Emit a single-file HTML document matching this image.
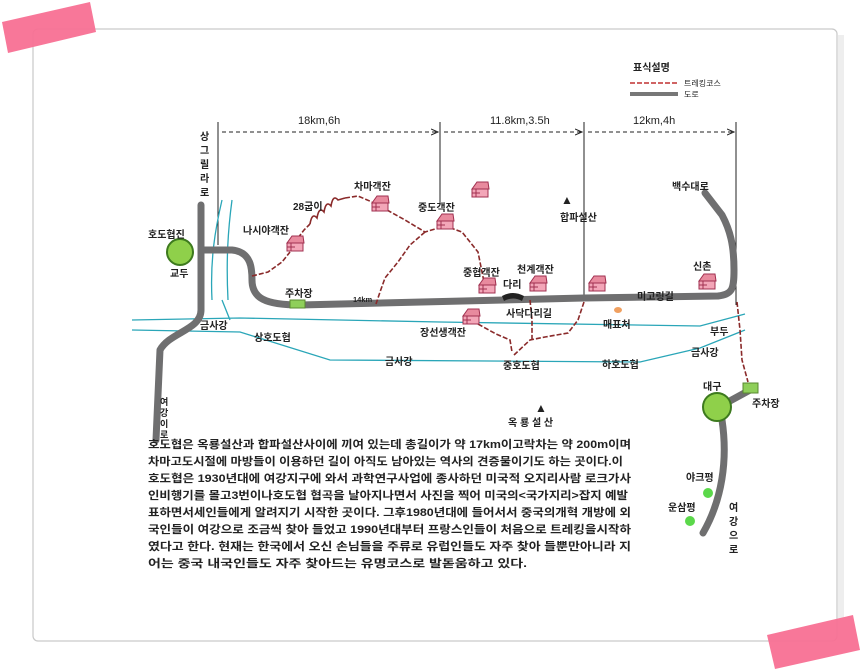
<!DOCTYPE html>
<html><head><meta charset="utf-8"><style>
html,body{margin:0;padding:0;background:#fff;}
svg{display:block;}
text{font-family:"Liberation Sans","Noto Sans CJK KR",sans-serif;fill:#222;}
.b{font-weight:bold;}
</style></head><body>
<svg width="865" height="671" viewBox="0 0 865 671" xmlns="http://www.w3.org/2000/svg">
<defs>
<marker id="ah" markerWidth="8" markerHeight="8" refX="7" refY="4" orient="auto"><path d="M0,1 L7,4 L0,7" fill="none" stroke="#222" stroke-width="1"/></marker>
<g id="house"><path d="M-8,-1 L-3,-8 L8,-8 L9,-1 Z" fill="#e88a9e" stroke="#a03050" stroke-width="1"/><rect x="-8" y="-1" width="16" height="8" fill="#f3a6b8" stroke="#a03050" stroke-width="1"/><path d="M-4,-1 L-4,7 M-8,3 L0,3" stroke="#a03050" stroke-width="1"/></g>
</defs>
<rect width="865" height="671" fill="#fff"/>
<rect x="33" y="29" width="804" height="612" rx="5" fill="#fff" stroke="#c9c9c9" stroke-width="1.2"/>
<rect x="838" y="35" width="6" height="600" fill="#eee"/>
<polygon points="2,22 90,2 96,32 8,53" fill="#f87094" opacity="0.95"/>
<polygon points="767,635 853,615 860,650 775,669" fill="#f87094" opacity="0.95"/>

<!-- legend -->
<text x="633" y="71" font-size="10" class="b">표식설명</text>
<line x1="630" y1="83" x2="678" y2="83" stroke="#c03030" stroke-width="1.5" stroke-dasharray="5,2"/>
<text x="684" y="86" font-size="8">트레킹코스</text>
<line x1="630" y1="94" x2="678" y2="94" stroke="#777" stroke-width="4"/>
<text x="684" y="97" font-size="8">도로</text>

<!-- dimension lines -->
<g stroke="#222" stroke-width="1">
<line x1="218" y1="122" x2="218" y2="245"/>
<line x1="440" y1="122" x2="440" y2="205"/>
<line x1="584" y1="122" x2="584" y2="300"/>
<line x1="736" y1="122" x2="736" y2="305"/>
<g stroke-dasharray="4,3" marker-end="url(#ah)">
<line x1="222" y1="132" x2="438" y2="132"/><line x1="444" y1="132" x2="582" y2="132"/><line x1="588" y1="132" x2="734" y2="132"/>
</g></g>
<text x="298" y="124" font-size="11">18km,6h</text>
<text x="490" y="124" font-size="11">11.8km,3.5h</text>
<text x="633" y="124" font-size="11">12km,4h</text>

<!-- rivers -->
<g fill="none" stroke="#2aa6b8" stroke-width="1.3">
<path d="M132,320 L240,318 L440,322 L700,326 L745,314"/>
<path d="M132,330 L240,332 L330,360 L640,362 L700,348 L745,330"/>
<path d="M212,300 C210,260 215,230 222,200 M222,300 L230,320 M228,300 C226,260 228,230 232,200"/>
</g>

<!-- roads -->
<g fill="none" stroke="#6f6f70" stroke-width="7" stroke-linecap="round" stroke-linejoin="round">
<path d="M201,205 L201,310 C201,330 170,332 160,350 L156,440"/>
<path d="M201,250 L232,250 C252,252 252,270 252,280 C252,298 265,305 300,305 L584,298 L718,296 C732,294 734,290 734,270 C734,245 730,230 722,215 L705,193"/>
<path d="M717,408 L750,390"/>
<path d="M722,420 C728,460 722,500 703,533"/>
</g>
<rect x="290" y="300" width="15" height="8" fill="#8fcf5a" stroke="#5a8a30"/>
<rect x="743" y="383" width="15" height="10" fill="#8fcf5a" stroke="#5a8a30"/>
<circle cx="180" cy="252" r="13" fill="#8fd04a" stroke="#3d7a1e" stroke-width="2"/>
<circle cx="717" cy="407" r="14" fill="#8fd04a" stroke="#3d7a1e" stroke-width="2"/>
<circle cx="708" cy="493" r="5" fill="#5bd84a"/>
<circle cx="690" cy="521" r="5" fill="#5bd84a"/>
<path d="M502,296 Q513,290 524,296 L522,301 Q513,296 504,301 Z" fill="#222"/>

<!-- trails -->
<g fill="none" stroke="#8a2a2a" stroke-width="1.6" stroke-dasharray="5,2">
<path d="M252,276 L268,272 L282,262 L290,252 M298,238 L304,230 L310,224"/>
<path d="M387,210 L405,220 L425,232 L445,226 L462,232 L478,252 L484,282"/>
<path d="M425,232 L410,245 L398,262 L385,278 L380,292 L376,304"/>
<path d="M584,302 L578,320 L568,333 L545,337 L530,340 L514,355 M530,300 L532,320 L532,340"/>
<path d="M478,324 L496,334 L510,340 L512,352"/>
<path d="M737,302 L740,330 L742,360 L748,382"/>
<path d="M345,198 L358,196 L372,202"/>
</g>
<path d="M310,224 Q312,212 317,218 Q319,206 324,212 Q326,200 331,206 Q333,194 338,200 L345,198" fill="none" stroke="#8a2a2a" stroke-width="1.6"/>

<!-- houses -->
<use href="#house" x="295" y="244"/><use href="#house" x="380" y="204"/><use href="#house" x="445" y="222"/>
<use href="#house" x="480" y="190"/><use href="#house" x="487" y="286"/><use href="#house" x="538" y="284"/>
<use href="#house" x="597" y="284"/><use href="#house" x="471" y="317"/><use href="#house" x="707" y="282"/>
<ellipse cx="618" cy="310" rx="4" ry="3" fill="#f0a060"/>

<!-- labels -->
<g font-size="10.5" class="b">
<text x="200" y="140" font-size="10">상</text><text x="200" y="154" font-size="10">그</text><text x="200" y="168" font-size="10">릴</text><text x="200" y="182" font-size="10">라</text><text x="200" y="196" font-size="10">로</text>
<text x="148" y="238" font-size="10">호도협진</text>
<text x="170" y="277" font-size="10">교두</text>
<text x="243" y="234" font-size="10">나시야객잔</text>
<text x="293" y="210" font-size="10">28굽이</text>
<text x="354" y="190" font-size="10">차마객잔</text>
<text x="418" y="211" font-size="10">중도객잔</text>
<text x="561" y="204" font-size="12">▲</text>
<text x="560" y="221" font-size="10">합파설산</text>
<text x="672" y="190" font-size="10">백수대로</text>
<text x="463" y="276" font-size="10">중협객잔</text>
<text x="517" y="273" font-size="10">천계객잔</text>
<text x="693" y="270" font-size="10">신촌</text>
<text x="285" y="297" font-size="10">주차장</text>
<text x="353" y="302" font-size="7.5">14km</text>
<text x="503" y="288" font-size="10">다리</text>
<text x="506" y="317" font-size="10">사닥다리길</text>
<text x="637" y="300" font-size="10">미고링길</text>
<text x="603" y="328" font-size="10">매표처</text>
<text x="420" y="336" font-size="10">장선생객잔</text>
<text x="200" y="329" font-size="10">금사강</text>
<text x="254" y="341" font-size="10">상호도협</text>
<text x="385" y="365" font-size="10">금사강</text>
<text x="503" y="369" font-size="10">중호도협</text>
<text x="602" y="368" font-size="10">하호도협</text>
<text x="691" y="356" font-size="10">금사강</text>
<text x="710" y="335" font-size="10">부두</text>
<text x="703" y="390" font-size="10">대구</text>
<text x="752" y="407" font-size="10">주차장</text>
<text x="535" y="412" font-size="12">▲</text>
<text x="508" y="426" font-size="10">옥 룡 설 산</text>
<text x="686" y="481" font-size="10">야크평</text>
<text x="668" y="511" font-size="10">운삼평</text>
<text x="160" y="405" font-size="9">여</text><text x="160" y="416" font-size="9">강</text><text x="160" y="427" font-size="9">이</text><text x="160" y="438" font-size="9">로</text>
<text x="729" y="511" font-size="10">여</text><text x="729" y="525" font-size="10">강</text><text x="729" y="539" font-size="10">으</text><text x="729" y="553" font-size="10">로</text>
</g>

<!-- paragraph -->
<g font-size="11" class="b">
<text x="148" y="448" textLength="483" lengthAdjust="spacingAndGlyphs">호도협은 옥룡설산과 합파설산사이에 끼여 있는데 총길이가 약 17km이고락차는 약 200m이며</text>
<text x="148" y="465" textLength="475" lengthAdjust="spacingAndGlyphs">차마고도시절에 마방들이 이용하던 길이 아직도 남아있는 역사의 견증물이기도 하는 곳이다.이</text>
<text x="148" y="482" textLength="483" lengthAdjust="spacingAndGlyphs">호도협은 1930년대에 여강지구에 와서 과학연구사업에 종사하던  미국적 오지리사람 로크가사</text>
<text x="148" y="499" textLength="480" lengthAdjust="spacingAndGlyphs">인비행기를 몰고3번이나호도협 협곡을 날아지나면서 사진을 찍어 미국의&lt;국가지리&gt;잡지 예발</text>
<text x="148" y="516" textLength="483" lengthAdjust="spacingAndGlyphs">표하면서세인들에게 알려지기 시작한 곳이다. 그후1980년대에 들어서서 중국의개혁 개방에 외</text>
<text x="148" y="533" textLength="483" lengthAdjust="spacingAndGlyphs">국인들이 여강으로 조금씩 찾아 들었고 1990년대부터 프랑스인들이 처음으로  트레킹을시작하</text>
<text x="148" y="550" textLength="483" lengthAdjust="spacingAndGlyphs">였다고 한다. 현재는 한국에서 오신  손님들을   주류로 유럽인들도 자주 찾아  들뿐만아니라 지</text>
<text x="148" y="567" textLength="379" lengthAdjust="spacingAndGlyphs">어는 중국 내국인들도 자주 찾아드는 유명코스로 발돋움하고 있다.</text>
</g>
</svg>
</body></html>
